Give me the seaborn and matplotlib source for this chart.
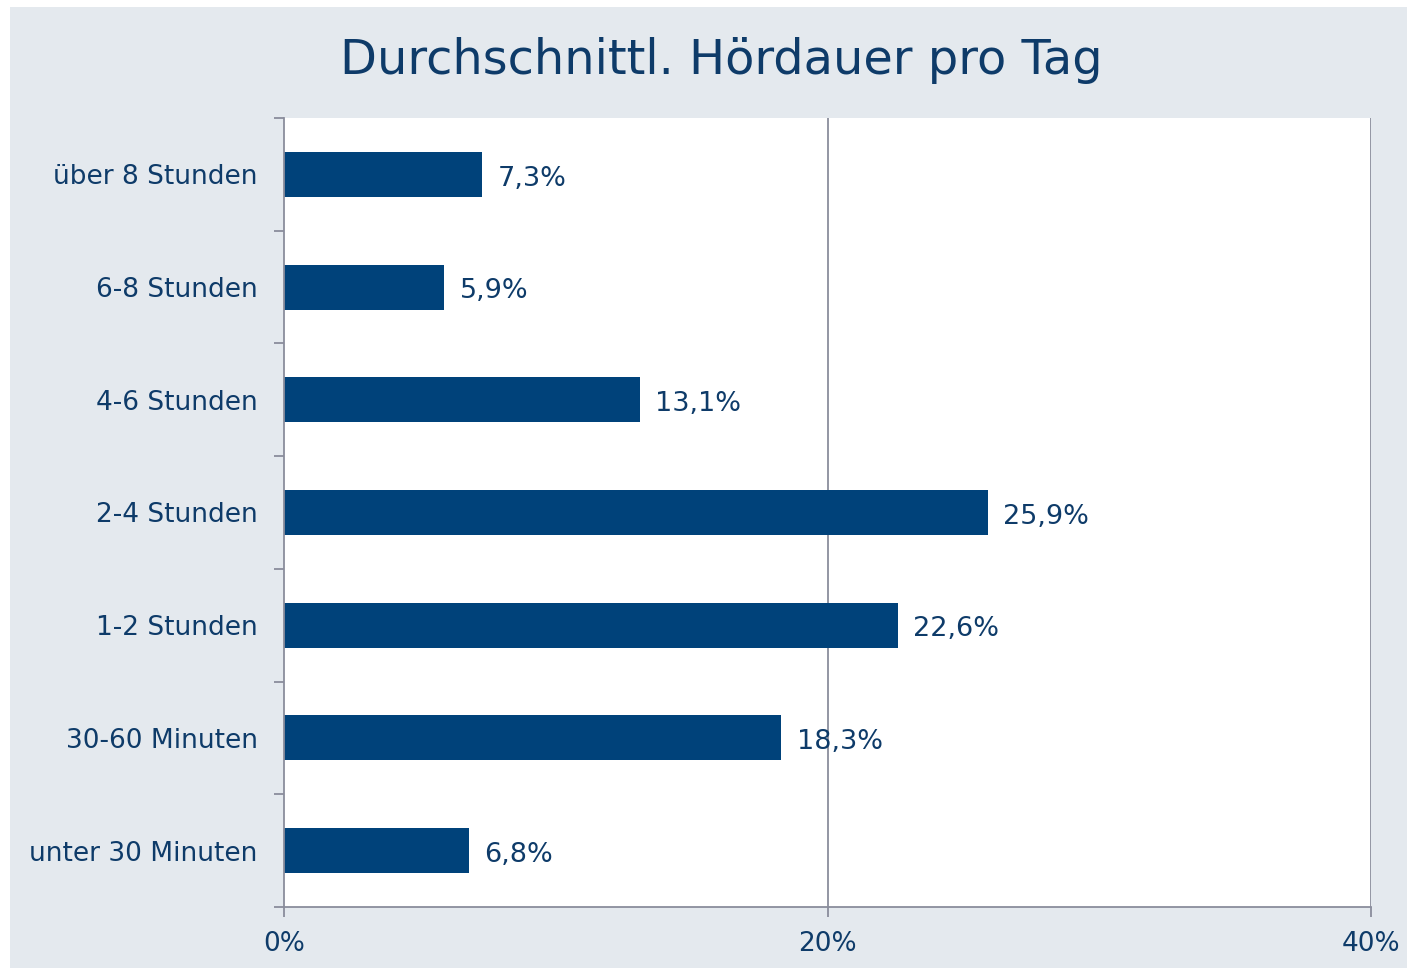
import matplotlib
matplotlib.use("Agg")
import matplotlib.pyplot as plt
import seaborn as sns
import pandas as pd
from matplotlib.patches import Rectangle
from matplotlib.ticker import FixedLocator, FuncFormatter

# data
categories = ["über 8 Stunden", "6-8 Stunden", "4-6 Stunden", "2-4 Stunden",
              "1-2 Stunden", "30-60 Minuten", "unter 30 Minuten"]
values = [7.3, 5.9, 13.1, 25.9, 22.6, 18.3, 6.8]
x_ticks = [0, 20, 40]

BAR = "#00427A"
TEXT = "#0E3B69"
BG = "#E4E9EE"
LINE = "#8A8D9C"

sns.set_theme(style="white")
plt.rcParams["font.family"] = ["DejaVu Sans"]

df = pd.DataFrame({"Kategorie": categories, "Anteil": values})

fig = plt.figure(figsize=(14.07, 9.68), dpi=100)
W, H = 1407, 968
fig.patches.append(Rectangle((10 / W, 0), 1 - 10 / W, 1 - 7 / H,
                             transform=fig.transFigure, facecolor=BG,
                             edgecolor="none", zorder=-10))

ax = fig.add_axes([284 / W, 1 - 907 / H, (1371 - 284) / W, (907 - 118) / H])
sns.barplot(data=df, x="Anteil", y="Kategorie", order=categories,
            color=BAR, saturation=1, width=0.4, ax=ax, orient="h")
for p in ax.patches:
    p.set_edgecolor("none")

ax.set_xlim(0, 40)
ax.set_ylim(len(categories) - 0.5, -0.5)
ax.set_facecolor("white")
ax.set_xlabel("")
ax.set_ylabel("")

# gridlines
for t in x_ticks[1:]:
    ax.axvline(t, color=LINE, lw=1.3, zorder=0)

for side in ["top", "right"]:
    ax.spines[side].set_visible(False)
for side in ["left", "bottom"]:
    ax.spines[side].set_color(LINE)
    ax.spines[side].set_linewidth(1.3)

ax.xaxis.set_major_locator(FixedLocator(x_ticks))
ax.xaxis.set_major_formatter(FuncFormatter(lambda v, _: f"{v:.0f}%"))
ax.tick_params(axis="x", which="major", length=7, width=1.3, color=LINE,
               labelsize=19, labelcolor=TEXT, pad=10, bottom=True)
ax.tick_params(axis="y", which="major", length=0, labelsize=19,
               labelcolor=TEXT, pad=19)
ax.yaxis.set_minor_locator(FixedLocator([i - 0.5 for i in range(len(categories) + 1)]))
ax.tick_params(axis="y", which="minor", length=7, width=1.3, color=LINE, left=True)

# value labels, German decimal comma
for i, v in enumerate(values):
    lab = f"{v:.1f}".replace(".", ",") + "%"
    ax.annotate(lab, xy=(v, i), xytext=(11, -3), textcoords="offset points",
                ha="left", va="center", fontsize=19.5, color=TEXT)

fig.text(721 / W, 1 - 60 / H, "Durchschnittl. Hördauer pro Tag", ha="center",
         va="center", fontsize=34.5, color=TEXT)

fig.savefig("out.png", dpi=100)
